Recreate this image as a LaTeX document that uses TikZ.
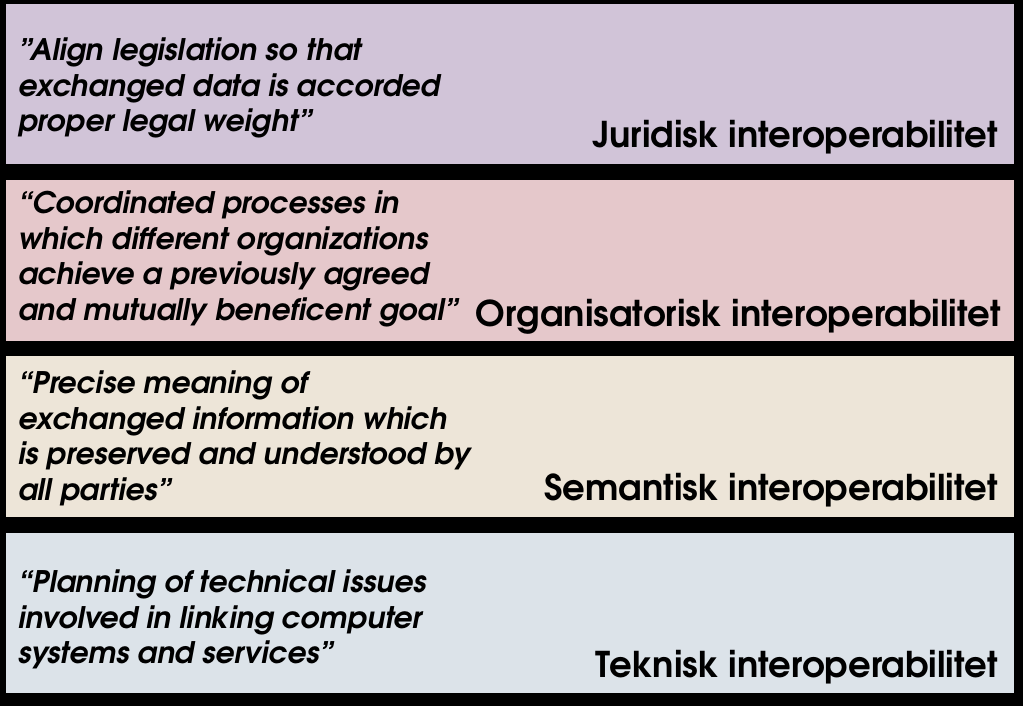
\documentclass[tikz,border=0pt]{standalone}
\usepackage{fontspec}
\setmainfont{texgyreadventor}[Extension=.otf, UprightFont=*-regular, BoldFont=*-bold, ItalicFont=*-italic, BoldItalicFont=*-bolditalic]
\definecolor{juridisk}{RGB}{209,196,216}
\definecolor{organisk}{RGB}{229,200,203}
\definecolor{semantisk}{RGB}{237,229,216}
\definecolor{teknisk}{RGB}{220,227,233}
\tikzset{
  quote/.style={anchor=north west, inner sep=0pt, align=left, font=\fontsize{29.7}{35.4}\selectfont\bfseries\itshape},
  level/.style={anchor=base east, inner sep=0pt, font=\fontsize{35.5}{40}\selectfont\bfseries}
}

\begin{document}
\begin{tikzpicture}[x=1pt, y=-1pt]
\fill[black] (0,0) rectangle (1023,706);
\fill[juridisk] (6,4) rectangle (1014,164);
\fill[organisk] (6,180) rectangle (1014,341);
\fill[semantisk] (6,356) rectangle (1014,517);
\fill[teknisk] (6,533) rectangle (1014,693);
\node[quote] (qjur) at (18,38) {”Align legislation so that\\exchanged data is accorded\\proper legal weight”};
\node[level] (ljur) at (998,148) {Juridisk interoperabilitet};
\node[quote] (qorg) at (18,191) {“Coordinated processes in\\which different organizations\\achieve a previously agreed\\and mutually beneficent goal”};
\node[level] (lorg) at (1001,326) {Organisatorisk interoperabilitet};
\node[quote] (qsem) at (18,371) {“Precise meaning of\\exchanged information which\\is preserved and understood by\\all parties”};
\node[level] (lsem) at (998,500) {Semantisk interoperabilitet};
\node[quote] (qtek) at (18,570) {“Planning of technical issues\\involved in linking computer\\systems and services”};
\node[level] (ltek) at (998,677) {Teknisk interoperabilitet};
\end{tikzpicture}
\end{document}
